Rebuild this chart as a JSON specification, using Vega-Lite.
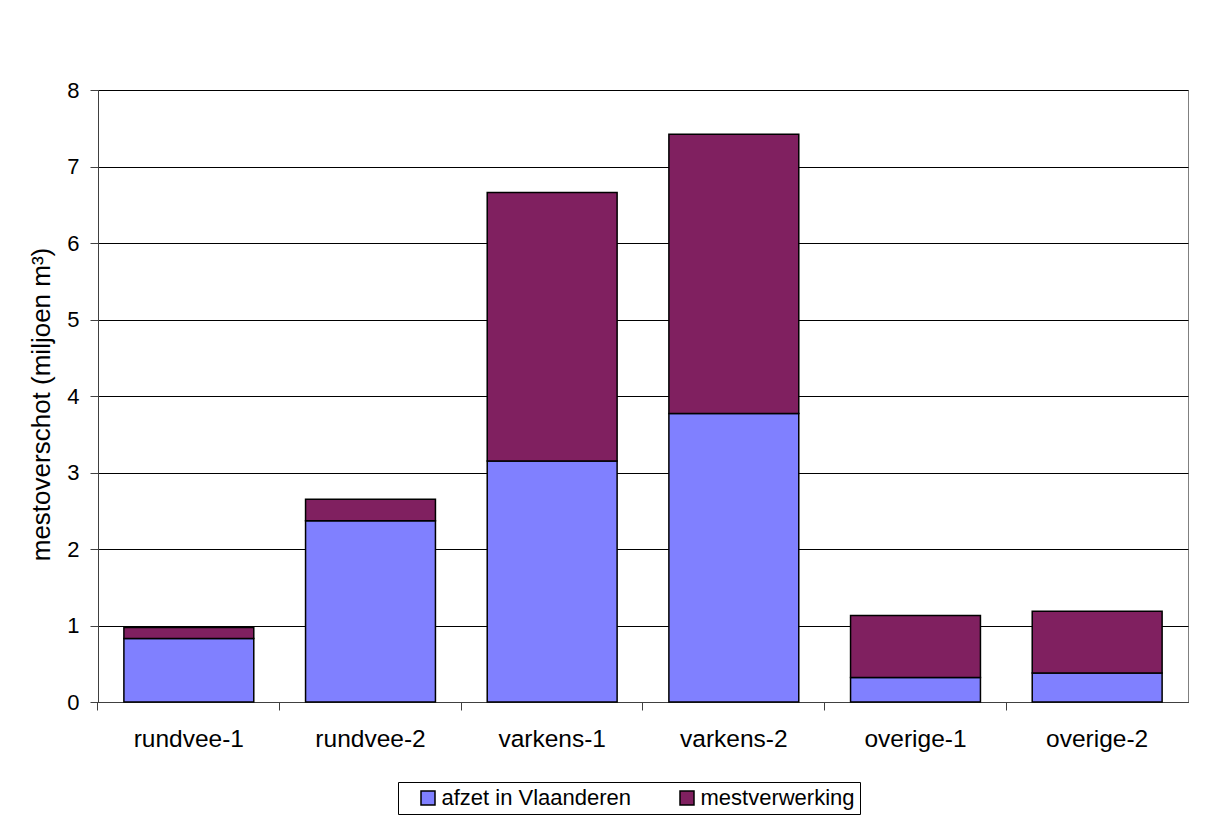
{
  "$schema": "https://vega.github.io/schema/vega-lite/v6.json",
  "autosize": "none",
  "width": 1090,
  "height": 612,
  "padding": {"left": 98, "top": 90, "right": 20, "bottom": 136},
  "background": "white",
  "config": {
    "font": "Liberation Sans",
    "view": {"stroke": "#808080", "strokeWidth": 1}
  },
  "data": {
    "values": [
      {"categorie": "rundvee-1", "bestemming": "afzet in Vlaanderen", "waarde": 0.83},
      {"categorie": "rundvee-1", "bestemming": "mestverwerking", "waarde": 0.145},
      {"categorie": "rundvee-2", "bestemming": "afzet in Vlaanderen", "waarde": 2.37},
      {"categorie": "rundvee-2", "bestemming": "mestverwerking", "waarde": 0.28},
      {"categorie": "varkens-1", "bestemming": "afzet in Vlaanderen", "waarde": 3.15},
      {"categorie": "varkens-1", "bestemming": "mestverwerking", "waarde": 3.51},
      {"categorie": "varkens-2", "bestemming": "afzet in Vlaanderen", "waarde": 3.77},
      {"categorie": "varkens-2", "bestemming": "mestverwerking", "waarde": 3.65},
      {"categorie": "overige-1", "bestemming": "afzet in Vlaanderen", "waarde": 0.32},
      {"categorie": "overige-1", "bestemming": "mestverwerking", "waarde": 0.81},
      {"categorie": "overige-2", "bestemming": "afzet in Vlaanderen", "waarde": 0.38},
      {"categorie": "overige-2", "bestemming": "mestverwerking", "waarde": 0.805}
    ]
  },
  "mark": {"type": "bar", "stroke": "#000000", "strokeWidth": 1.5},
  "encoding": {
    "x": {
      "field": "categorie",
      "type": "nominal",
      "sort": null,
      "title": null,
      "scale": {"paddingInner": 0.285, "paddingOuter": 0.1425},
      "axis": {
        "labelAngle": 0,
        "bandPosition": -0.2,
        "tickSize": 8,
        "tickColor": "#404040",
        "domainColor": "#404040",
        "labelFontSize": 24.5,
        "labelColor": "#000000",
        "labelBaseline": "alphabetic",
        "labelPadding": 36,
        "grid": false
      }
    },
    "y": {
      "field": "waarde",
      "type": "quantitative",
      "stack": "zero",
      "scale": {"domain": [0, 8], "nice": false},
      "axis": {
        "title": "mestoverschot (miljoen m³)",
        "values": [0, 1, 2, 3, 4, 5, 6, 7, 8],
        "grid": true,
        "gridColor": "#000000",
        "gridOpacity": 1,
        "tickSize": 8,
        "tickColor": "#404040",
        "domainColor": "#404040",
        "labelPadding": 11,
        "labelFontSize": 22,
        "labelColor": "#000000",
        "titleFontSize": 26,
        "titleFontWeight": "normal",
        "titleColor": "#000000",
        "titleBaseline": "alphabetic",
        "titlePadding": 17,
        "titleY": 314
      }
    },
    "color": {
      "field": "bestemming",
      "type": "nominal",
      "scale": {
        "domain": ["afzet in Vlaanderen", "mestverwerking"],
        "range": ["#8080FF", "#802060"]
      },
      "legend": {
        "title": null,
        "orient": "none",
        "legendX": 300,
        "legendY": 692,
        "direction": "horizontal",
        "padding": 5,
        "symbolOffset": 14,
        "symbolType": "square",
        "symbolSize": 196,
        "symbolStrokeColor": "#000000",
        "symbolStrokeWidth": 1.5,
        "symbolOpacity": 1,
        "labelFontSize": 22,
        "labelLimit": 400,
        "labelColor": "#000000",
        "labelOffset": 2.5,
        "columnPadding": 30,
        "strokeColor": "#000000",
        "fillColor": "#ffffff"
      }
    },
    "order": {"field": "bestemming", "sort": "ascending"}
  }
}
